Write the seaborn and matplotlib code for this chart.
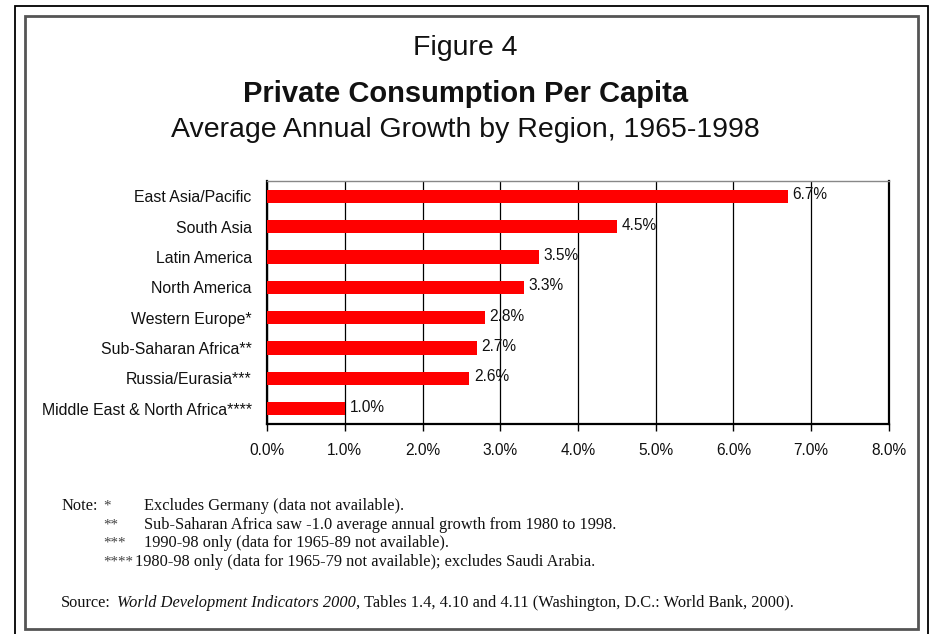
import matplotlib
matplotlib.use('Agg')
import matplotlib.pyplot as plt
import seaborn as sns
import pandas as pd
from matplotlib.patches import Rectangle
from matplotlib.ticker import FuncFormatter, MultipleLocator

regions = ['East Asia/Pacific', 'South Asia', 'Latin America', 'North America',
           'Western Europe*', 'Sub-Saharan Africa**', 'Russia/Eurasia***',
           'Middle East & North Africa****']
growth = [6.7, 4.5, 3.5, 3.3, 2.8, 2.7, 2.6, 1.0]

note_marks = ['*', '**', '***', '****']
note_texts = ['Excludes Germany (data not available).',
              'Sub-Saharan Africa saw -1.0 average annual growth from 1980 to 1998.',
              '1990-98 only (data for 1965-89 not available).',
              '1980-98 only (data for 1965-79 not available); excludes Saudi Arabia.']

df = pd.DataFrame({'region': regions, 'growth': growth})

sns.set_style('white')
plt.rcParams['font.family'] = ['Liberation Sans', 'DejaVu Sans']
plt.rcParams['text.color'] = '#111111'

W, H = 931, 634
fig = plt.figure(figsize=(W / 100, H / 100), dpi=100)


def fx(x):
    return x / W


def fy(y):
    return 1 - y / H


# frames
fig.patches.append(Rectangle((fx(15), fy(640)), fx(913), (640 - 6) / H, transform=fig.transFigure,
                             fill=False, edgecolor='black', linewidth=1.3))
fig.patches.append(Rectangle((fx(25), fy(629)), fx(893), (629 - 16) / H, transform=fig.transFigure,
                             fill=False, edgecolor='#555555', linewidth=2))

ax = fig.add_axes([fx(267), fy(424), fx(889 - 267), (424 - 181) / H])
sns.barplot(data=df, x='growth', y='region', orient='h', color='#ff0000',
            width=0.44, saturation=1, linewidth=0, ax=ax, zorder=3)

ax.set_xlim(0, 8)
ax.xaxis.set_major_locator(MultipleLocator(1))
ax.xaxis.set_major_formatter(FuncFormatter(lambda v, p: '%.1f%%' % v))
ax.grid(axis='x', color='black', linewidth=0.9)
ax.set_axisbelow(True)
ax.set_xlabel('')
ax.set_ylabel('')
ax.tick_params(axis='x', direction='out', length=5, width=1, color='black',
               bottom=True, labelsize=11.2, pad=9, labelcolor='#111111')
ax.tick_params(axis='y', length=0, labelsize=11.4, pad=11, labelcolor='#111111')
for s in ['left', 'bottom', 'right']:
    ax.spines[s].set_color('black')
    ax.spines[s].set_linewidth(1.6)
ax.spines['top'].set_color('#888888')
ax.spines['top'].set_linewidth(1)

for i, v in enumerate(growth):
    ax.text(v + 0.06, i - 0.05, '%.1f%%' % v, va='center', ha='left', fontsize=11.2, zorder=4)

# titles
fig.text(0.5, fy(48), 'Figure 4', ha='center', va='center', fontsize=20.5)
fig.text(0.5, fy(94), 'Private Consumption Per Capita', ha='center', va='center',
         fontsize=21, fontweight='bold')
fig.text(0.5, fy(130), 'Average Annual Growth by Region, 1965-1998', ha='center',
         va='center', fontsize=20.5)

# notes
serif = ['Liberation Serif', 'DejaVu Serif']
fs = 11.8
fig.text(fx(61), fy(506), 'Note:', ha='left', va='center', fontsize=fs, family=serif)
for k, (m, t) in enumerate(zip(note_marks, note_texts)):
    y = fy(506 + 18.7 * k)
    mk = fig.text(fx(103), y, m, ha='left', va='center', fontsize=10.8, family=serif,
                  color='#444444')
    if k < 3:
        tx = 144
    else:
        fig.canvas.draw()
        tx = mk.get_window_extent().x1 + 2
    fig.text(fx(tx), y, t, ha='left', va='center', fontsize=fs, family=serif)

fig.text(fx(61), fy(603), 'Source:', ha='left', va='center', fontsize=fs, family=serif)
src = fig.text(fx(117), fy(603), 'World Development Indicators 2000', ha='left', va='center',
               fontsize=fs, family=serif, style='italic')
fig.canvas.draw()
bb = src.get_window_extent()
fig.text(bb.x1 / W, fy(603), ', Tables 1.4, 4.10 and 4.11 (Washington, D.C.: World Bank, 2000).',
         ha='left', va='center', fontsize=fs, family=serif)

fig.savefig('out.png', dpi=100)
